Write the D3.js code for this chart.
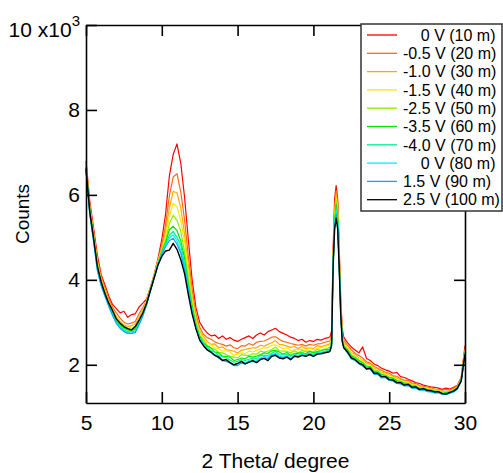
<!DOCTYPE html>
<html>
<head>
<meta charset="utf-8">
<script src="https://cdn.jsdelivr.net/npm/d3@7"></script>
<style>
  body { margin: 0; background: #fff; }
  svg text { font-family: "Liberation Sans", Arial, Helvetica, sans-serif; }
</style>
</head>
<body>
<svg id="visualisation" width="503" height="473"></svg>
<script>
// 2 theta grid (finer around the sharp peak at 21.5)
const theta = [5,5.25,5.5,5.75,6,6.25,6.5,6.75,7,7.25,7.5,7.75,8,8.25,8.5,8.75,
  9,9.25,9.5,9.75,10,10.25,10.5,10.75,11,11.25,11.5,11.75,12,12.25,12.5,12.75,13,
  13.25,13.5,13.75,14,14.25,14.5,14.75,15,15.25,15.5,15.75,16,16.25,16.5,16.75,17,17.25,17.5,17.75,18,18.25,18.5,18.75,19,19.25,19.5,19.75,20,20.25,20.5,20.75,21,
  21.1,21.2,21.3,21.4,21.5,21.6,21.7,21.8,21.9,22,
  22.25,22.5,22.75,23,23.25,23.5,23.75,24,24.25,24.5,24.75,25,25.25,25.5,25.75,26,26.25,26.5,26.75,27,27.25,27.5,27.75,28,28.25,28.5,28.75,29,29.25,29.5,29.75,30]

// counts, x10^3
const v0_10m = [6.80,5.85,5.22,4.58,4.12,3.88,3.62,3.42,3.32,3.22,3.26,3.12,3.18,3.20,3.36,3.45,
  3.55,3.82,4.12,4.50,4.95,5.55,6.45,6.95,7.20,6.75,5.95,4.95,4.00,3.35,3.00,2.85,2.75,
  2.68,2.70,2.62,2.68,2.60,2.64,2.58,2.55,2.60,2.64,2.68,2.62,2.70,2.75,2.70,2.78,2.82,2.86,2.78,2.74,2.70,2.65,2.62,2.57,2.60,2.53,2.57,2.55,2.60,2.58,2.62,2.64,
  2.66,2.80,4.70,5.90,6.22,5.90,4.80,3.60,2.85,2.65,
  2.52,2.42,2.35,2.28,2.42,2.15,2.10,2.02,1.98,1.92,1.88,1.85,1.80,1.82,1.72,1.70,1.66,1.62,1.58,1.56,1.52,1.50,1.48,1.47,1.45,1.42,1.45,1.43,1.47,1.52,1.70,2.45]
const vm05_20m = [6.74,5.76,5.14,4.48,4.08,3.80,3.56,3.36,3.22,3.10,3.00,2.96,2.98,3.02,3.20,3.35,
  3.52,3.82,4.12,4.48,4.83,5.29,5.98,6.42,6.50,6.07,5.42,4.55,3.78,3.20,2.88,2.72,2.64,
  2.60,2.54,2.50,2.48,2.44,2.47,2.40,2.38,2.45,2.44,2.50,2.46,2.53,2.55,2.56,2.60,2.65,2.66,2.60,2.55,2.53,2.50,2.48,2.46,2.48,2.44,2.48,2.46,2.49,2.50,2.53,2.55,
  2.56,2.70,4.58,5.69,6.10,5.80,4.65,3.48,2.76,2.58,
  2.46,2.35,2.27,2.22,2.16,2.07,2.04,1.96,1.92,1.87,1.82,1.80,1.74,1.73,1.67,1.64,1.63,1.57,1.56,1.51,1.49,1.48,1.46,1.43,1.42,1.40,1.42,1.40,1.45,1.51,1.68,2.39]
const vm10_30m = [6.70,5.74,5.08,4.44,4.02,3.76,3.50,3.30,3.14,3.02,2.94,2.90,2.92,2.96,3.12,3.30,
  3.50,3.80,4.10,4.45,4.76,5.14,5.70,6.08,6.05,5.70,5.08,4.36,3.60,3.13,2.79,2.67,2.55,
  2.48,2.49,2.40,2.42,2.36,2.34,2.32,2.28,2.34,2.36,2.38,2.40,2.40,2.46,2.44,2.48,2.52,2.57,2.48,2.47,2.44,2.41,2.43,2.38,2.43,2.38,2.40,2.38,2.45,2.42,2.45,2.48,
  2.50,2.64,4.51,5.57,6.02,5.70,4.57,3.41,2.71,2.53,
  2.40,2.29,2.25,2.16,2.10,2.04,2.01,1.91,1.90,1.82,1.81,1.75,1.73,1.68,1.66,1.61,1.59,1.56,1.52,1.50,1.47,1.44,1.43,1.42,1.40,1.37,1.37,1.39,1.42,1.48,1.67,2.36]
const vm15_40m = [6.70,5.68,5.06,4.40,3.98,3.74,3.48,3.28,3.10,2.98,2.92,2.86,2.88,2.90,3.08,3.26,
  3.49,3.79,4.10,4.42,4.71,5.04,5.50,5.80,5.72,5.40,4.90,4.17,3.54,3.05,2.76,2.60,2.52,
  2.47,2.40,2.38,2.32,2.33,2.30,2.22,2.25,2.28,2.26,2.32,2.30,2.34,2.37,2.40,2.40,2.46,2.47,2.42,2.38,2.40,2.33,2.36,2.35,2.37,2.33,2.39,2.35,2.38,2.40,2.43,2.45,
  2.46,2.59,4.46,5.49,5.95,5.64,4.51,3.36,2.67,2.50,
  2.40,2.28,2.20,2.15,2.09,1.99,2.00,1.90,1.86,1.81,1.77,1.74,1.70,1.67,1.62,1.60,1.58,1.52,1.53,1.46,1.47,1.44,1.42,1.40,1.40,1.35,1.36,1.37,1.41,1.48,1.65,2.33]
const vm25_50m = [6.64,5.66,5.02,4.36,3.96,3.70,3.46,3.24,3.06,2.96,2.88,2.84,2.84,2.86,3.04,3.24,
  3.48,3.78,4.08,4.40,4.69,4.93,5.32,5.52,5.40,5.15,4.66,4.04,3.42,3.01,2.69,2.58,2.46,
  2.38,2.37,2.29,2.28,2.24,2.20,2.18,2.16,2.24,2.22,2.22,2.26,2.25,2.32,2.30,2.32,2.36,2.42,2.33,2.32,2.32,2.28,2.33,2.28,2.34,2.31,2.33,2.30,2.36,2.34,2.37,2.40,
  2.42,2.55,4.42,5.40,5.86,5.56,4.45,3.32,2.64,2.47,
  2.35,2.22,2.19,2.10,2.05,1.98,1.95,1.85,1.86,1.77,1.76,1.70,1.68,1.63,1.62,1.56,1.57,1.52,1.49,1.46,1.44,1.41,1.42,1.38,1.37,1.35,1.34,1.37,1.40,1.46,1.64,2.31]
const vm35_60m = [6.68,5.62,4.98,4.30,3.92,3.68,3.42,3.22,3.04,2.94,2.86,2.82,2.80,2.84,3.00,3.20,
  3.46,3.77,4.07,4.38,4.66,4.88,5.18,5.26,5.16,4.92,4.52,3.90,3.37,2.94,2.67,2.52,2.44,
  2.40,2.30,2.28,2.20,2.20,2.18,2.10,2.12,2.16,2.14,2.20,2.18,2.20,2.24,2.28,2.27,2.33,2.34,2.30,2.25,2.29,2.22,2.27,2.27,2.29,2.26,2.32,2.28,2.31,2.33,2.36,2.36,
  2.39,2.52,4.38,5.34,5.78,5.48,4.40,3.28,2.61,2.45,
  2.35,2.22,2.15,2.10,2.05,1.94,1.96,1.85,1.82,1.77,1.74,1.70,1.68,1.63,1.60,1.57,1.55,1.49,1.50,1.43,1.45,1.42,1.38,1.38,1.36,1.31,1.35,1.35,1.40,1.46,1.63,2.29]
const vm40_70m = [6.62,5.60,4.95,4.28,3.90,3.66,3.40,3.20,3.02,2.90,2.82,2.78,2.78,2.80,2.98,3.18,
  3.44,3.76,4.06,4.38,4.64,4.84,5.05,5.14,5.00,4.82,4.38,3.84,3.30,2.93,2.62,2.51,2.40,
  2.33,2.30,2.22,2.19,2.16,2.11,2.06,2.08,2.12,2.10,2.13,2.16,2.14,2.22,2.22,2.22,2.27,2.32,2.24,2.23,2.24,2.20,2.26,2.22,2.28,2.24,2.28,2.24,2.30,2.29,2.32,2.34,
  2.37,2.50,4.36,5.30,5.70,5.42,4.37,3.26,2.59,2.44,
  2.31,2.18,2.16,2.06,2.01,1.95,1.93,1.82,1.83,1.73,1.74,1.66,1.65,1.60,1.60,1.53,1.54,1.49,1.47,1.44,1.43,1.39,1.40,1.36,1.37,1.33,1.32,1.35,1.38,1.45,1.64,2.28]
const v0_80m = [6.60,5.56,4.92,4.24,3.88,3.62,3.38,3.18,2.98,2.86,2.80,2.76,2.74,2.78,2.95,3.16,
  3.42,3.74,4.06,4.36,4.62,4.82,4.98,5.06,4.92,4.70,4.34,3.76,3.28,2.88,2.61,2.47,2.37,
  2.30,2.24,2.20,2.12,2.12,2.06,2.00,2.02,2.08,2.04,2.10,2.12,2.10,2.16,2.20,2.18,2.24,2.27,2.20,2.18,2.21,2.15,2.22,2.20,2.24,2.22,2.26,2.22,2.27,2.28,2.30,2.32,
  2.35,2.49,4.34,5.27,5.62,5.35,4.35,3.24,2.58,2.42,
  2.30,2.17,2.12,2.04,2.00,1.91,1.92,1.80,1.79,1.72,1.71,1.66,1.63,1.58,1.57,1.52,1.53,1.46,1.47,1.41,1.42,1.39,1.37,1.34,1.35,1.32,1.30,1.33,1.37,1.44,1.62,2.27]
const v15_90m = [6.58,5.54,4.90,4.22,3.86,3.62,3.38,3.16,2.98,2.86,2.78,2.74,2.74,2.76,2.94,3.15,
  3.42,3.74,4.04,4.36,4.60,4.78,4.92,4.98,4.84,4.63,4.25,3.74,3.24,2.87,2.58,2.45,2.35,
  2.28,2.22,2.16,2.10,2.08,2.04,1.98,1.98,2.04,2.02,2.06,2.08,2.06,2.14,2.16,2.15,2.22,2.24,2.18,2.17,2.19,2.14,2.22,2.19,2.23,2.21,2.25,2.21,2.26,2.27,2.29,2.31,
  2.34,2.47,4.32,5.24,5.55,5.28,4.33,3.22,2.57,2.41,
  2.28,2.14,2.10,2.02,1.97,1.90,1.89,1.78,1.77,1.69,1.70,1.63,1.62,1.56,1.55,1.50,1.51,1.45,1.45,1.40,1.41,1.37,1.36,1.34,1.34,1.30,1.30,1.33,1.36,1.43,1.61,2.26]
const v25_100m = [6.62,5.60,4.98,4.32,3.95,3.68,3.45,3.28,3.08,2.98,2.90,2.85,2.82,2.90,3.05,3.22,
  3.45,3.75,4.05,4.35,4.55,4.68,4.70,4.86,4.72,4.48,4.15,3.65,3.20,2.85,2.58,2.45,2.35,
  2.30,2.22,2.18,2.10,2.12,2.05,2.00,2.03,2.08,2.02,2.06,2.10,2.05,2.12,2.15,2.10,2.20,2.22,2.16,2.14,2.18,2.12,2.20,2.18,2.22,2.20,2.24,2.20,2.25,2.26,2.28,2.30,
  2.32,2.45,4.30,5.20,5.45,5.20,4.30,3.20,2.55,2.40,
  2.30,2.16,2.12,2.04,2.00,1.90,1.92,1.80,1.80,1.72,1.72,1.65,1.64,1.58,1.58,1.52,1.54,1.47,1.48,1.42,1.44,1.40,1.39,1.36,1.37,1.32,1.31,1.35,1.38,1.45,1.62,2.25]

const series = [v0_10m, vm05_20m, vm10_30m, vm15_40m, vm25_50m, vm35_60m, vm40_70m, v0_80m, v15_90m, v25_100m]
const labels = ['    0 V (10 m)', '-0.5 V (20 m)', '-1.0 V (30 m)', '-1.5 V (40 m)', '-2.5 V (50 m)',
  '-3.5 V (60 m)', '-4.0 V (70 m)', '    0 V (80 m)', '1.5 V (90 m)', '2.5 V (100 m)']
const colors = ['#ff0000', '#ff6a10', '#ffaa00', '#ffe800', '#8ced00', '#00e800', '#00f08c', '#00f0ff', '#0aa6ff', '#000000']

const xTicks = [5, 10, 15, 20, 25, 30]
const yTicks = [2, 4, 6, 8, 10]

const WIDTH = 503
const HEIGHT = 473
const PLOT = { left: 86, right: 465, top: 25, bottom: 403 }

const vis = d3.select('#visualisation')
vis.append('rect').attr('width', WIDTH).attr('height', HEIGHT).attr('fill', 'white')

const xScale = d3.scaleLinear().domain([5, 30]).range([PLOT.left, PLOT.right])
const yScale = d3.scaleLinear().domain([1.1, 10]).range([PLOT.bottom, PLOT.top])

// traces, black last so it sits on top
const lineGen = d3.line()
  .x((d, i) => xScale(theta[i]))
  .y(d => yScale(d))

vis.append('g').selectAll('path')
  .data(series)
  .enter().append('path')
  .attr('d', lineGen)
  .attr('fill', 'none')
  .attr('stroke', (d, i) => colors[i])
  .attr('stroke-width', (d, i) => i === 9 ? 1.4 : 1.2)
  .attr('stroke-linejoin', 'round')

// frame: ticks point inward on all four sides
const styleAxis = function(g, size) {
  g.attr('font-family', null).attr('font-size', size)
  g.selectAll('path.domain').attr('stroke', '#000').attr('stroke-width', 1.6)
  g.selectAll('.tick line').attr('stroke', '#000').attr('stroke-width', 1.6)
  g.selectAll('.tick text').attr('fill', '#000')
}

vis.append('g')
  .attr('transform', `translate(0,${PLOT.bottom})`)
  .call(d3.axisBottom(xScale).tickValues(xTicks).tickSize(-11).tickSizeOuter(0).tickPadding(12))
  .call(g => styleAxis(g, 21))

vis.append('g')
  .attr('transform', `translate(0,${PLOT.top})`)
  .call(d3.axisTop(xScale).tickValues(xTicks).tickSize(-11).tickSizeOuter(0).tickFormat(''))
  .call(g => styleAxis(g, 21))

vis.append('g')
  .attr('transform', `translate(${PLOT.right},0)`)
  .call(d3.axisRight(yScale).tickValues(yTicks).tickSize(-11).tickSizeOuter(0).tickFormat(''))
  .call(g => styleAxis(g, 21))

const yAxisG = vis.append('g')
  .attr('transform', `translate(${PLOT.left},0)`)
  .call(d3.axisLeft(yScale).tickValues(yTicks).tickSize(-11).tickSizeOuter(0).tickPadding(6)
    .tickFormat(d => d === 10 ? '10 x10' : d))
  .call(g => styleAxis(g, 21))

yAxisG.selectAll('.tick text')
  .filter(d => d === 10)
  .attr('y', 5)
  .append('tspan')
  .attr('font-size', 15)
  .attr('dy', '-0.75em')
  .text('3')

// axis titles
vis.append('text')
  .attr('x', (PLOT.left + PLOT.right) / 2)
  .attr('y', 468)
  .attr('text-anchor', 'middle')
  .attr('font-size', 21)
  .text('2 Theta/ degree')

vis.append('text')
  .attr('transform', `translate(29,${(PLOT.top + PLOT.bottom) / 2}) rotate(-90)`)
  .attr('text-anchor', 'middle')
  .attr('font-size', 19)
  .text('Counts')

// legend
const legend = vis.append('g').attr('transform', 'translate(361,24)')
legend.append('rect')
  .attr('width', 141).attr('height', 187)
  .attr('fill', 'white').attr('stroke', '#333').attr('stroke-width', 1.5)

const rows = legend.selectAll('g.row')
  .data(labels)
  .enter().append('g')
  .attr('class', 'row')
  .attr('transform', (d, i) => `translate(0,${11 + i * 18.3})`)

rows.append('line')
  .attr('x1', 6).attr('x2', 36)
  .attr('stroke', (d, i) => colors[i])
  .attr('stroke-width', 1.3)

rows.append('text')
  .attr('x', 42)
  .attr('dy', '0.36em')
  .attr('font-size', 16)
  .attr('xml:space', 'preserve')
  .style('white-space', 'pre')
  .text(d => d)
</script>
</body>
</html>
